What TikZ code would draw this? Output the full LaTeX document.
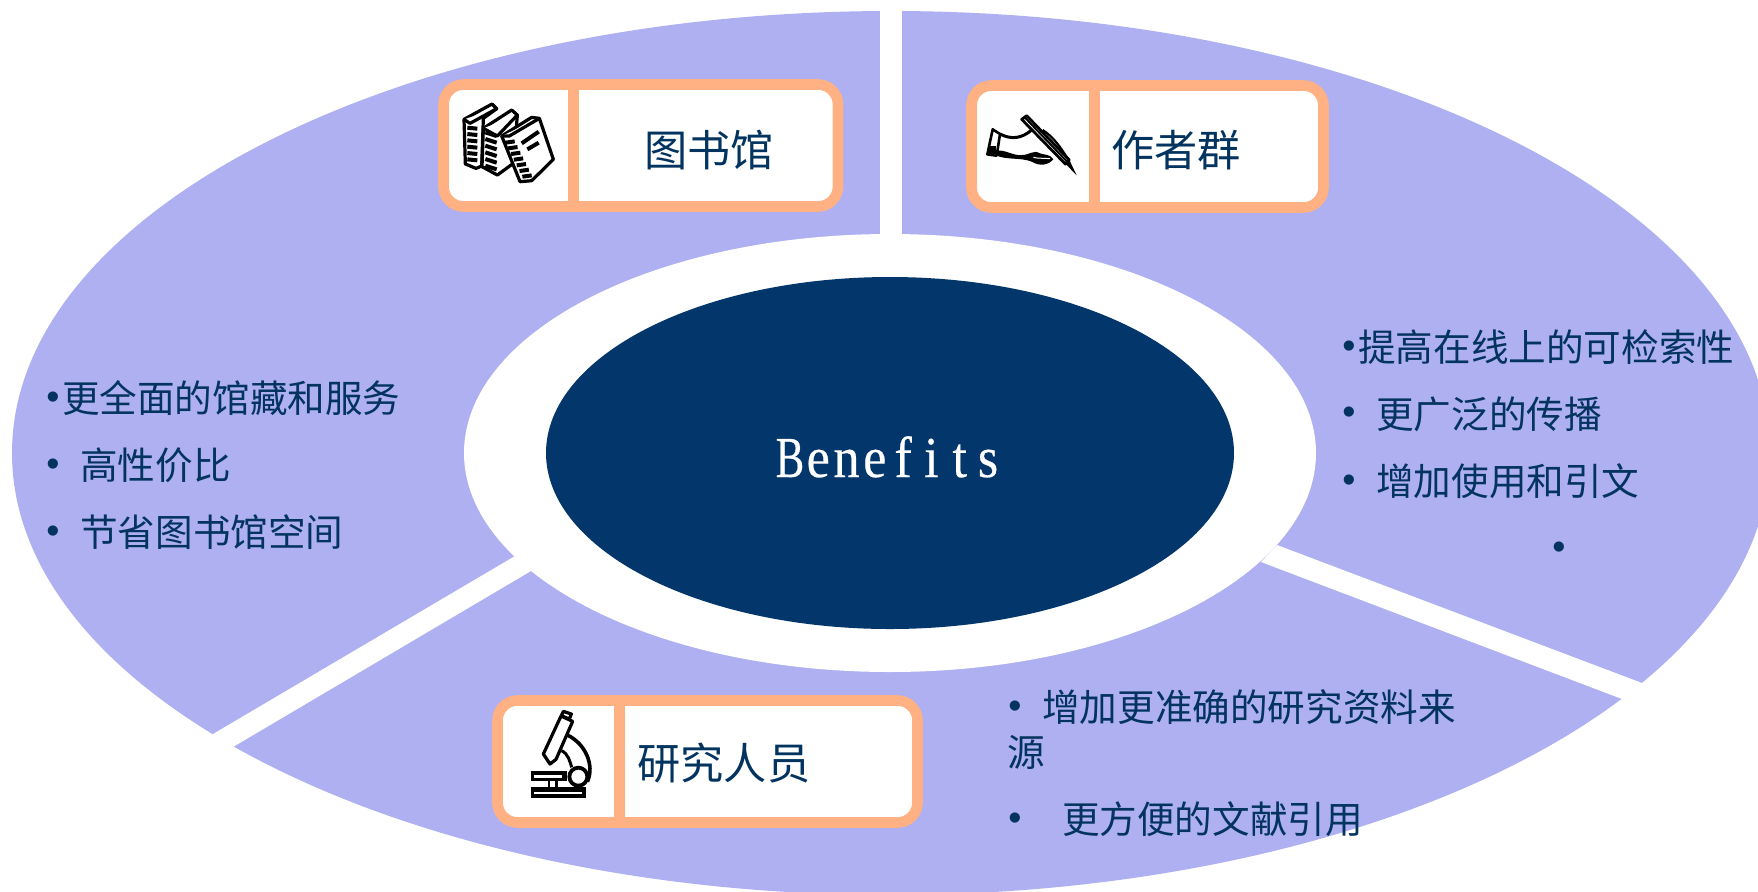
\documentclass[tikz,border=0pt]{standalone}
\usepackage{fontspec}
\usetikzlibrary{shapes.geometric}
\newfontfamily\cjk{Noto Sans CJK SC}
\newfontfamily\bulfont{Liberation Sans}
\newfontfamily\hubfont[FakeStretch=0.9,FakeBold=0.35]{Liberation Serif}
\definecolor{ringc}{HTML}{AEB0F2}
\definecolor{hubc}{HTML}{03366A}
\definecolor{edgec}{HTML}{FFB183}
\definecolor{textc}{HTML}{03335F}
\newcommand{\bul}[1]{\makebox[#1][l]{\raisebox{1.6pt}{\bulfont •}}}
\newcommand{\mc}[1]{\makebox[14.15pt]{#1}}
\tikzset{
  listtext/.style={anchor=west,inner sep=0pt,text=textc,font=\cjk\fontsize{18.8pt}{22pt}\selectfont},
  labeltext/.style={anchor=west,inner sep=0pt,text=textc,font=\cjk\fontsize{21.6pt}{25pt}\selectfont},
  cardbox/.style={draw=edgec,fill=white,line width=5.3pt,rounded corners=10pt},
  carddiv/.style={draw=edgec,line width=5.4pt},
  ink/.style={draw=black,line width=1.6pt,line join=round,fill=white},
  inkline/.style={draw=black,line width=2pt,line cap=butt},
}
\begin{document}
\begin{tikzpicture}[x=0.5pt,y=-0.5pt]
\useasboundingbox (0,0) rectangle (1758,891);
\clip (0,0) rectangle (1758,891);
\fill[white] (0,0) rectangle (1758,891);
% ring
\fill[ringc] (891,453) ellipse [x radius=439.5pt,y radius=221pt];
\fill[white] (890,453) ellipse [x radius=213pt,y radius=109.5pt];
% gaps
\fill[white] (880,0) rectangle (902,240);
\fill[white] (1277,545) -- (1642,683) -- (1758,727) -- (1758,760) -- (1622,699) -- (1261,562) -- cycle;
\fill[white] (515,556) -- (213,734) -- (140,777) -- (160,790) -- (233,747) -- (531,571) -- cycle;
% hub
\node[ellipse,fill=hubc,inner sep=0pt,minimum width=344pt,minimum height=176pt] (hub) at (890,453) {};
\node[anchor=base,inner sep=0pt,text=white,font=\hubfont\fontsize{29pt}{32pt}\selectfont] (hubtext) at (889,477) {\mc{\scalebox{0.82}[1]{B}}\mc{e}\mc{n}\mc{e}\mc{f}\mc{i}\mc{t}\mc{s}};
% cards
\draw[cardbox] (443.5,84.5) rectangle (838,206.5);
\draw[carddiv] (573.5,84.5) -- (573.5,206.5);
\draw[cardbox] (971.5,85.5) rectangle (1323.5,207.5);
\draw[carddiv] (1094.5,85.5) -- (1094.5,207.5);
\draw[cardbox] (497.5,700.5) rectangle (917.5,822.5);
\draw[carddiv] (619.5,700.5) -- (619.5,822.5);
\node[labeltext] (lib) at (644,150) {图书馆};
\node[labeltext] (auth) at (1111,150) {作者群};
\node[labeltext] (res) at (637,763) {研究人员};
% lists
\node[listtext] (l1) at (46,398) {\bul{0.42em}更全面的馆藏和服务};
\node[listtext] (l2) at (46,465) {\bul{0.9em}高性价比};
\node[listtext] (l3) at (46,532) {\bul{0.9em}节省图书馆空间};
\node[listtext] (r1) at (1342,347) {\bul{0.42em}提高在线上的可检索性};
\node[listtext] (r2) at (1342,414) {\bul{0.9em}更广泛的传播};
\node[listtext] (r3) at (1342,481) {\bul{0.9em}增加使用和引文};
\node[listtext] (r4) at (1552,552) {\bul{0.4em}};
\node[listtext] (b1) at (1008,707) {\bul{0.9em}增加更准确的研究资料来};
\node[listtext] (b2) at (1007,752) {源};
\node[listtext] (b3) at (1008,819) {\bul{1.43em}更方便的文献引用};
% books icon
\begin{scope}[shift={(420,60)},x=0.1667pt,y=-0.1667pt]
\draw[ink] (132,178) -- (216,132) -- (230,146) -- (190,175) -- (185,318) -- (168,325) -- (136,312) -- cycle;
\draw[ink] (132,178) -- (150,190) -- (230,146);
\foreach \yy in {203,222,241,260,279,298} \draw[inkline] (142,\yy) -- (172,\yy+3);
\draw[ink] (190,205) -- (275,150) -- (292,165) -- (280,310) -- (232,345) -- (186,320) -- cycle;
\draw[ink] (190,205) -- (232,228) -- (292,165);
\foreach \yy in {225,245,265,285,305,325} \draw[inkline] (196,\yy-8) -- (230,\yy+3);
\draw[ink] (245,228) -- (335,172) -- (358,175) -- (400,298) -- (335,362) -- (300,365) -- cycle;
\draw[ink] (245,228) -- (268,228) -- (358,175);
\foreach \i in {0,1,2,3,4,5,6} \draw[inkline] (256+\i*8.5,248+\i*17) -- (284+\i*8.5,244+\i*17);
\draw[inkline] (305,250) -- (356,215);
\draw[inkline] (322,268) -- (356,248);
\end{scope}
% hand icon
\begin{scope}[shift={(950,60)},x=0.1667pt,y=-0.1667pt]
\draw[draw=black,line width=1.3pt,line join=round,fill=white] (128,208) -- (112,283) -- (140,287) -- (150,222) -- cycle;
\draw[line width=1.5pt] (150,222) .. controls (185,240) and (215,235) .. (245,210);
\draw[line width=1.1pt] (278,210) .. controls (310,230) and (335,265) .. (356,302);
\fill[black] (118,258) rectangle (138,285);
\fill[black] (140,272) .. controls (165,268) and (190,288) .. (215,285) .. controls (240,285) and (250,268) .. (270,280) .. controls (285,285) and (300,282) .. (310,298) .. controls (295,315) and (270,320) .. (245,305) .. controls (215,292) and (170,300) .. (140,287) -- cycle;
\draw[white,line width=0.5pt] (250,292) .. controls (265,296) and (285,294) .. (300,296);
\draw[line width=1.4pt,fill=white,line join=round] (215,178) -- (230,167) -- (358,300) -- (346,312) -- cycle;
\draw[line width=1pt] (224,172) -- (352,306);
\fill[black] (345,310) -- (380,346) -- (358,300) -- cycle;
\end{scope}
% microscope icon
\begin{scope}[shift={(480,680)},x=0.1667pt,y=-0.1667pt]
\fill[black] (152,322) rectangle (317,353);
\fill[white] (163,335) rectangle (305,343);
\fill[black] (152,272) rectangle (262,302);
\fill[white] (163,285) rectangle (245,293);
\fill[white] (210,302) rectangle (226,322);
\fill[black] (203,302) rectangle (210,322);
\fill[black] (226,302) rectangle (233,322);
\draw[line width=1.8pt] (262,165) .. controls (315,190) and (345,255) .. (322,305);
\draw[line width=1.5pt] (245,212) .. controls (265,222) and (270,245) .. (275,262);
\draw[ink] (243,108) -- (278,124) -- (228,238) -- (210,252) -- (190,222) -- cycle;
\draw[ink] (250,94) -- (274,102) -- (268,117) -- (244,107) -- cycle;
\draw[ink,line width=1.9pt] (295,290) circle [x radius=4.5pt,y radius=4.5pt];
\end{scope}
\end{tikzpicture}
\end{document}
